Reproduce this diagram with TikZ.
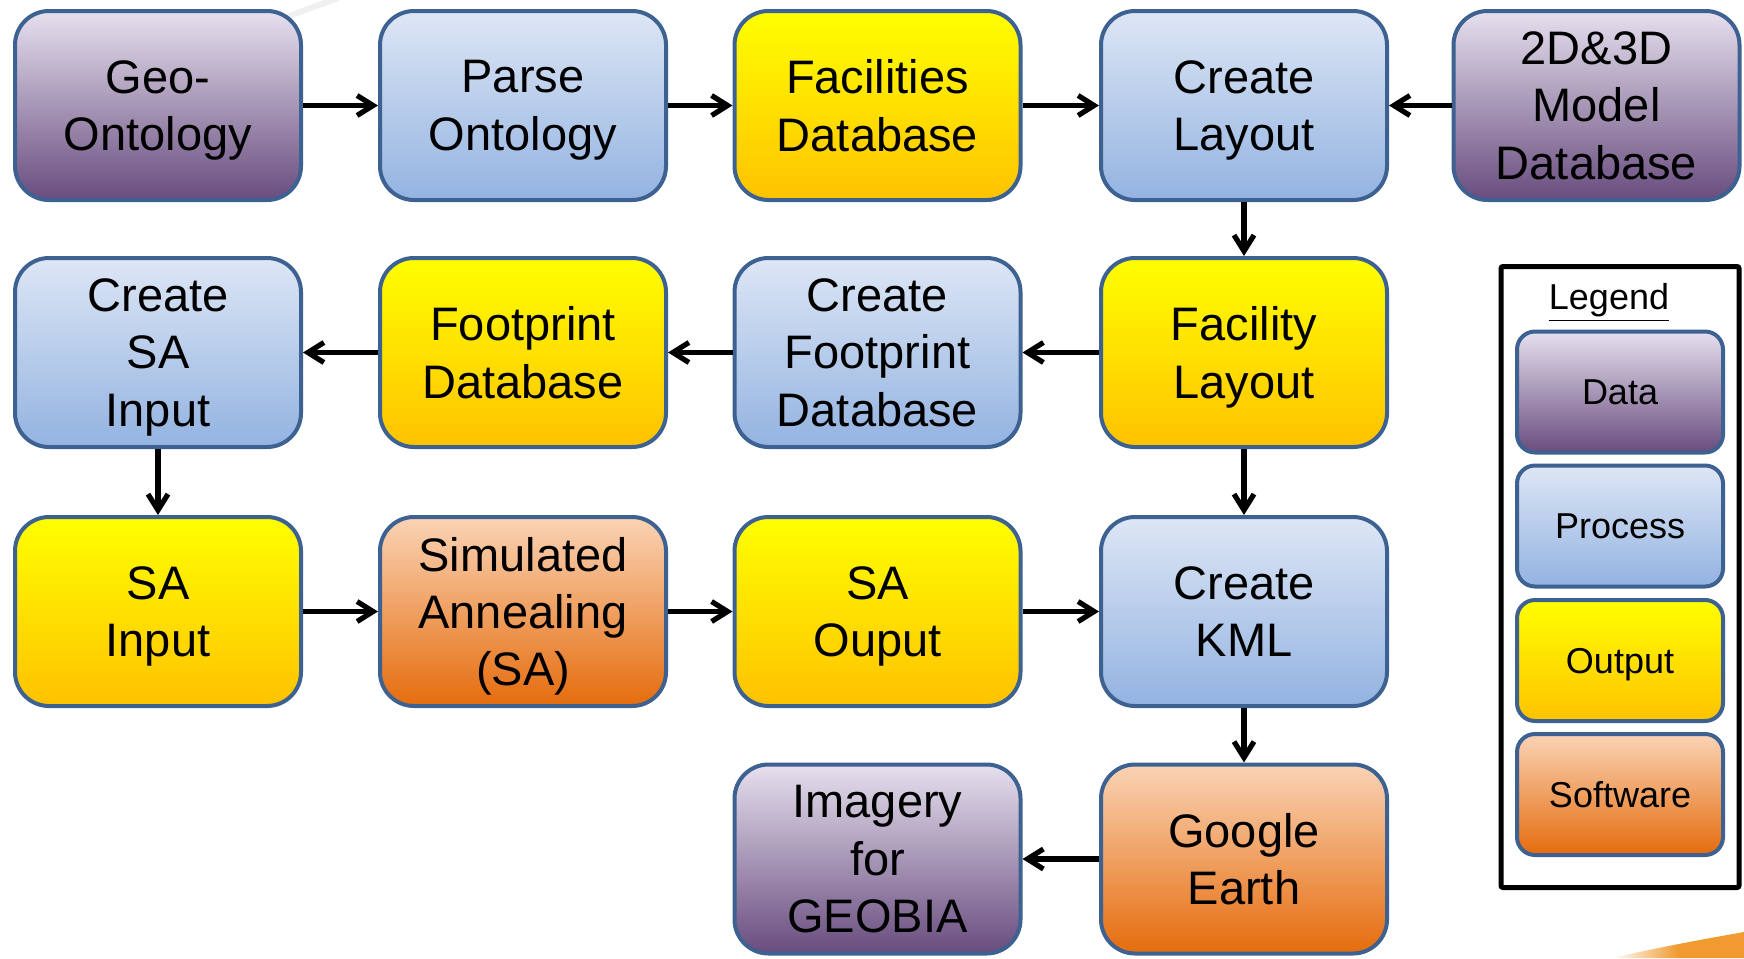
\documentclass[tikz,border=0pt]{standalone}
\usepackage{fontspec}
\setmainfont{Liberation Sans}
\usetikzlibrary{arrows.meta}

\definecolor{edgeblue}{HTML}{3D6190}
\definecolor{dataTop}{HTML}{E6E0EE}
\definecolor{dataMid}{HTML}{B3A1C9}
\definecolor{dataBot}{HTML}{684C7E}
\definecolor{procTop}{HTML}{DDE6F5}
\definecolor{procMid}{HTML}{BCCDEB}
\definecolor{procBot}{HTML}{93B3E1}
\definecolor{outTop}{HTML}{FFFF00}
\definecolor{outMid}{HTML}{FFF800}
\definecolor{outBot}{HTML}{FFC200}
\definecolor{softTop}{HTML}{FAD3B5}
\definecolor{softMid}{HTML}{F4AE78}
\definecolor{softBot}{HTML}{E56C0D}
\definecolor{swoosh}{HTML}{F19A30}

\tikzset{
  box/.style={draw=edgeblue, line width=2pt, rounded corners=17pt,
    minimum width=143pt, minimum height=94.5pt, align=center, inner sep=0pt,
    text depth=0pt, font=\fontsize{23.5}{28.7}\selectfont},
  databox/.style={box, top color=dataTop, middle color=dataMid, bottom color=dataBot},
  procbox/.style={box, top color=procTop, middle color=procMid, bottom color=procBot},
  outbox/.style={box, top color=outTop, middle color=outMid, bottom color=outBot},
  softbox/.style={box, top color=softTop, middle color=softMid, bottom color=softBot},
  legitem/.style={minimum width=103pt, minimum height=60.5pt, rounded corners=9pt,
    font=\fontsize{18}{21}\selectfont},
  arr/.style={line width=2.6pt, -{Straight Barb[length=8pt,width=10pt,line width=2.6pt]}},
}

\begin{document}
\begin{tikzpicture}[x=0.5pt, y=-0.5pt]
\useasboundingbox (0,0) rectangle (1744,958);

% faint background streaks
\draw[black!6, line width=3pt, line cap=round] (262,26) -- (338,-2);
\shade[left color=white, right color=swoosh, middle color=swoosh]
  (1612,958) .. controls (1665,946) and (1705,939) .. (1744,932) -- (1744,958) -- cycle;

% row 1
\node[databox] (geo)    at (158,105.5)  {Geo-\\Ontology};
\node[procbox] (parse)  at (523,105.5)  {Parse\\Ontology};
\node[outbox]  (facdb)  at (877.5,105.5) {Facilities\\Database};
\node[procbox] (layout) at (1244,105.5) {Create\\Layout};
\node[databox] (model)  at (1596.5,105.5) {2D\&3D\\Model\\Database};

% row 2
\node[procbox] (mksa)   at (158,352.5)  {Create\\SA\\Input};
\node[outbox]  (footdb) at (523,352.5)  {Footprint\\Database};
\node[procbox] (mkfoot) at (877.5,352.5) {Create\\Footprint\\Database};
\node[outbox]  (faclay) at (1244,352.5) {Facility\\Layout};

% row 3
\node[outbox]  (sain)   at (158,611.5)  {SA\\Input};
\node[softbox] (anneal) at (523,611.5)  {Simulated\\Annealing\\(SA)};
\node[outbox]  (saout)  at (877.5,611.5) {SA\\Ouput};
\node[procbox] (kml)    at (1244,611.5) {Create\\KML};

% row 4
\node[databox] (imag)   at (877.5,859)  {Imagery\\for\\GEOBIA};
\node[softbox] (gearth) at (1244,859)   {Google\\Earth};

% flow
\draw[arr] (geo) -- (parse);
\draw[arr] (parse) -- (facdb);
\draw[arr] (facdb) -- (layout);
\draw[arr] (model) -- (layout);
\draw[arr] (layout) -- (faclay);
\draw[arr] (faclay) -- (mkfoot);
\draw[arr] (mkfoot) -- (footdb);
\draw[arr] (footdb) -- (mksa);
\draw[arr] (mksa) -- (sain);
\draw[arr] (sain) -- (anneal);
\draw[arr] (anneal) -- (saout);
\draw[arr] (saout) -- (kml);
\draw[arr] (faclay) -- (kml);
\draw[arr] (kml) -- (gearth);
\draw[arr] (gearth) -- (imag);

% legend
\node[draw=black, line width=2.5pt, rounded corners=1pt, minimum width=119pt,
      minimum height=310.5pt, inner sep=0pt] (legend) at (1620,577) {};
\node[font=\fontsize{18}{21}\selectfont] (legtitle) at (1609,302.5) {\underline{Legend}};
\node[databox, legitem] (lgdata) at (1620,392)   {Data};
\node[procbox, legitem] (lgproc) at (1620,526)   {Process};
\node[outbox,  legitem] (lgout)  at (1620,660.5) {Output};
\node[softbox, legitem] (lgsoft) at (1620,794.5) {Software};
\end{tikzpicture}
\end{document}
